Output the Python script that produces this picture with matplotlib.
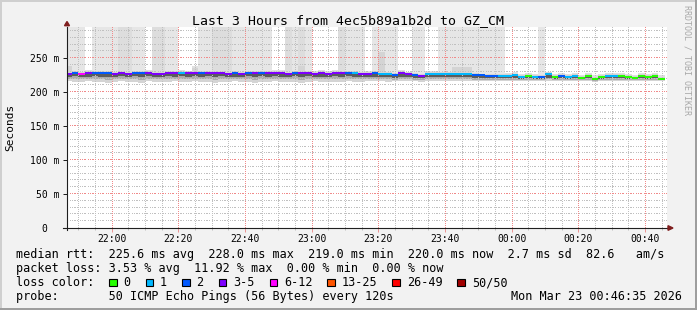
import numpy as np
import pandas as pd
import matplotlib
matplotlib.use("Agg")
import matplotlib.pyplot as plt
import matplotlib.dates as mdates
from matplotlib.patches import Rectangle, Polygon
from matplotlib.transforms import ScaledTranslation

title = "Last 3 Hours from 4ec5b89a1b2d to GZ_CM"
first_bin = "2026-03-22 21:46"
view_start = "2026-03-22 21:46:35"
view_end = "2026-03-23 00:46:35"
stamp = "Mon Mar 23 00:46:35 2026"

# one value per 2 minute step
median_ms = [226.5, 228.0, 226.5, 228.0, 228.0, 228.0, 228.0, 226.5, 228.0, 227.0,
             228.0, 228.0, 228.0, 227.0, 227.5, 228.0, 228.0, 228.0, 228.0, 228.0,
             228.0, 228.0, 228.0, 228.0, 227.0, 228.0, 226.5, 228.0, 228.0, 228.0,
             228.0, 228.0, 228.0, 226.5, 228.0, 228.0, 228.0, 226.5, 228.0, 226.5,
             228.0, 228.0, 228.0, 228.0, 227.0, 227.0, 228.0, 226.5, 227.0, 226.0,
             228.0, 226.5, 225.5, 224.5, 226.5, 227.5, 226.5, 226.5, 226.5, 226.5,
             226.5, 226.0, 225.0, 224.5, 224.5, 224.0, 224.0, 225.0, 222.5, 224.0,
             222.0, 223.0, 226.5, 222.0, 224.0, 222.0, 224.0, 221.5, 224.0, 219.0,
             222.0, 224.0, 224.0, 224.0, 222.0, 221.5, 224.0, 222.0, 224.0, 220.0]

loss_pct = [6, 4, 11.92, 6, 4, 4, 4, 6, 6, 6,
            4, 4, 6, 6, 6, 6, 6, 2, 6, 6,
            4, 6, 6, 6, 6, 4, 6, 4, 6, 4,
            6, 6, 6, 6, 4, 6, 6, 6, 6, 6,
            6, 6, 4, 2, 6, 6, 4, 2, 2, 4,
            6, 6, 4, 6, 2, 2, 2, 2, 2, 2,
            2, 4, 4, 4, 4, 2, 2, 2, 2, 0,
            2, 4, 2, 0, 4, 2, 2, 0, 0, 0,
            0, 2, 2, 0, 0, 0, 0, 0, 0, 0]

rtt_min = [216, 215, 215, 216, 215, 215, 214, 215, 216, 215,
           215, 214, 216, 215, 215, 215, 216, 215, 215, 216,
           215, 215, 214, 215, 215, 216, 215, 215, 214, 215,
           215, 216, 215, 215, 215, 214, 215, 216, 215, 215,
           215, 215, 216, 215, 215, 216, 216, 216, 215, 216,
           216, 216, 216, 215, 216, 216, 216, 216, 216, 216,
           216, 216, 216, 216, 216, 216, 216, 216, 216, 217,
           216, 216, 217, 216, 217, 216, 217, 216, 216, 215.5,
           216, 217, 217, 217, 216, 216, 217, 216, 217, 216]

rtt_p10 = [219, 219.5, 219, 219, 219.5, 219, 218.5, 219, 219.5, 219,
           219, 218.5, 219.5, 219, 219, 219, 219.5, 219, 219, 219.5,
           219, 219, 218.5, 219, 219, 219.5, 219, 219, 218.5, 219,
           219, 219.5, 219, 219, 219, 218.5, 219, 219.5, 219, 219,
           219, 219, 219.5, 219, 219, 219.5, 219, 219, 219, 218.5,
           219, 219, 218.5, 218.5, 219, 219, 219, 219, 219, 219,
           219, 218.5, 218.5, 218, 218, 218, 218, 218.5, 218.5, 218.5,
           218, 218.5, 219, 218, 218.5, 218, 218.5, 218, 218.5, 216.5,
           218, 218.5, 218.5, 218.5, 218, 218, 218.5, 218, 218.5, 217.5]

rtt_p25 = [223, 223.5, 222.5, 223, 223.5, 223, 223, 222.5, 223.5, 223,
           223.5, 223, 223.5, 222.5, 223, 223.5, 223, 223.5, 223, 223.5,
           223, 223.5, 223, 223.5, 222.5, 223, 222.5, 223.5, 223, 223.5,
           223, 223.5, 223, 222.5, 223.5, 223, 223.5, 222.5, 223, 222.5,
           223.5, 223, 223.5, 223, 222.5, 222.5, 222.5, 222, 222, 221.5,
           222.5, 222, 221.5, 221, 222, 222.5, 222, 222, 222, 222,
           222, 221.5, 221, 220.5, 220.5, 220.5, 220.5, 221, 220, 220.5,
           219.5, 220, 221, 219.5, 220.5, 219.5, 220.5, 219.5, 220.5, 217.5,
           219.5, 220.5, 220.5, 220.5, 219.5, 219.5, 220.5, 219.5, 220.5, 218.5]

rtt_hi = [238, 230.5, 229, 230.5, 230.5, 230.5, 230.5, 229, 231, 229.5,
          230.5, 230.5, 230.5, 229.5, 230, 230.5, 230.5, 230.5, 230.5, 236,
          230.5, 230.5, 230.5, 230.5, 229.5, 230.5, 229, 230.5, 230.5, 230.5,
          230.5, 230.5, 230.5, 229, 230.5, 239, 230.5, 229, 230.5, 229,
          230.5, 230.5, 230.5, 230.5, 229.5, 229.5, 230.5, 259, 229.5, 228.5,
          230.5, 229, 228, 227, 229, 230, 229, 229, 237, 237,
          237, 228.5, 227.5, 227, 227, 226.5, 226.5, 227.5, 225.5, 226.5,
          225, 225.5, 229, 225, 226.5, 225, 226.5, 224.5, 226.5, 222.5,
          225, 226.5, 226.5, 226.5, 225, 224.5, 226.5, 225, 226.5, 223]

rtt_max = [420, 420, 420, 232, 420, 420, 420, 420, 420, 420,
           420, 420, 232, 420, 420, 420, 420, 232, 231, 238,
           420, 420, 420, 420, 420, 420, 420, 420, 420, 420,
           420, 232, 232, 420, 420, 420, 420, 231, 232, 231,
           232, 420, 420, 420, 420, 231, 420, 420, 420, 420,
           232, 230, 420, 420, 231, 231, 420, 420, 420, 420,
           420, 420, 420, 420, 420, 420, 228, 229, 227, 228,
           227, 420, 230, 227, 228, 227, 228, 226, 228, 225,
           227, 228, 228, 228, 227, 226, 228, 227, 228, 225]

# pings above the top of the graph
over_top = [2, 2, 2, 0, 2, 2, 2, 2, 3, 3,
            2, 2, 0, 3, 3, 2, 2, 0, 0, 0,
            2, 2, 3, 3, 3, 2, 2, 2, 2, 2,
            2, 0, 0, 3, 2, 3, 2, 0, 0, 0,
            0, 3, 2, 2, 2, 0, 2, 2, 2, 2,
            0, 0, 2, 2, 0, 0, 2, 2, 2, 2,
            2, 2, 2, 2, 2, 2, 0, 0, 0, 0,
            0, 2, 0, 0, 0, 0, 0, 0, 0, 0,
            0, 0, 0, 0, 0, 0, 0, 0, 0, 0]

loss_labels = ["0", "1", "2", "3-5", "6-12", "13-25", "26-49", "50/50"]
loss_colors = ["#26ff00", "#00b8ff", "#0059ff", "#7e00ff",
               "#ff00ff", "#ff5500", "#ff0000", "#a10000"]
loss_upper = [0, 1, 2, 5, 12, 25, 49, 50]

ytick_vals = [0, 50, 100, 150, 200, 250]
ytick_labels = ["0", "50 m", "100 m", "150 m", "200 m", "250 m"]

legend_lines = [
    "median rtt:  225.6 ms avg  228.0 ms max  219.0 ms min  220.0 ms now  2.7 ms sd  82.6   am/s",
    "packet loss: 3.53 % avg  11.92 % max  0.00 % min  0.00 % now",
    "loss color:",
    "probe:       50 ICMP Echo Pings (56 Bytes) every 120s",
]

W, H = 697, 310
MONO = "DejaVu Sans Mono"
plt.rcParams["font.family"] = MONO

fig = plt.figure(figsize=(W / 100, H / 100), dpi=100)
fig.patch.set_facecolor("#f2f2f2")


def fx(px):
    return px / W


def fy(py):
    return 1 - py / H


# 3d frame of the image
for xy, wd, ht, c in [((0, 0), 1, 2 / H, "#9e9e9e"),
                      ((1 - 2 / W, 0), 2 / W, 1, "#9e9e9e"),
                      ((0, 1 - 2 / H), 1 - 2 / W, 2 / H, "#cfcfcf"),
                      ((0, 2 / H), 2 / W, 1 - 4 / H, "#cfcfcf")]:
    fig.add_artist(Rectangle(xy, wd, ht, transform=fig.transFigure, facecolor=c, lw=0))

ax = fig.add_axes([fx(67), fy(228), 600 / W, 201 / H])
ax.set_facecolor("white")
ymax = 296
x0 = mdates.date2num(pd.Timestamp(view_start))
x1 = mdates.date2num(pd.Timestamp(view_end))
ax.set_ylim(0, ymax)
ax.set_xlim(x0, x1)

t = mdates.date2num(pd.date_range(first_bin, periods=len(median_ms), freq="2min"))
w = 2 / 1440
med = np.array(median_ms)
lo = np.array(rtt_min)

shade = {0: "#e0e0e0", 2: "#e6e6e6", 3: "#dddddd"}
kw = dict(width=w, align="edge", linewidth=0, antialiased=False, zorder=1)
ax.bar(t, np.array(rtt_max) - lo, bottom=lo, color=[shade[n] for n in over_top], **kw)
ax.bar(t, np.array(rtt_hi) - lo, bottom=lo, color="#d4d4d4", **kw)
ax.bar(t, med + 1 - np.array(rtt_p10), bottom=rtt_p10, color="#ababab", **kw)
ax.bar(t, med - np.array(rtt_p25), bottom=rtt_p25, color="#5c5c5c", **kw)

# median, coloured by loss
pings = np.round(np.array(loss_pct) * 50 / 100).astype(int)
med_colors = [loss_colors[next(i for i, u in enumerate(loss_upper) if p <= u)] for p in pings]
dy = ymax / 201
ax.bar(t, 2 * dy, bottom=med - dy, color=med_colors, width=w, align="edge",
       linewidth=0, antialiased=False, zorder=3)

# ticks
ax.xaxis.set_major_locator(mdates.MinuteLocator(byminute=[0, 20, 40]))
ax.xaxis.set_minor_locator(mdates.MinuteLocator(byminute=range(0, 60, 5)))
ax.xaxis.set_major_formatter(mdates.DateFormatter("%H:%M"))
ax.set_yticks(ytick_vals, ytick_labels)
ax.tick_params(axis="x", which="major", length=2.9, width=0.72, color="#eb9595",
               pad=1.4, labelsize=7, labelcolor="black")
ax.tick_params(axis="x", which="minor", length=1.5, width=0.72, color="#c0c0c0")
ax.tick_params(axis="y", which="major", length=2.9, width=0.72, color="#1f1f1f",
               pad=2.6, labelsize=7, labelcolor="black")
for s in ax.spines.values():
    s.set_visible(False)

zero = ax.yaxis.get_major_ticks()[0].label1
zero.set_transform(zero.get_transform() + ScaledTranslation(-2 * 0.602 * 7 / 72, 0, fig.dpi_scale_trans))

# dotted grid, one pixel on / one off
dx = (x1 - x0) / 600
xdots = x0 + dx * np.arange(0.5, 600, 2)
ydots = dy * np.arange(0.5, 201, 2)
vmaj = [v for v in ax.xaxis.get_majorticklocs()]
vmin = [v for v in ax.xaxis.get_minorticklocs() if min(abs(v - m) for m in vmaj) > 1e-6]
hmaj = ytick_vals[1:]
hmin = [v for v in range(10, ymax, 10) if v % 50]


def dots(hs, vs, color):
    xs = np.concatenate([xdots for _ in hs] + [np.full(ydots.size, v) for v in vs])
    ys = np.concatenate([np.full(xdots.size, h) for h in hs] + [ydots for _ in vs])
    ax.plot(xs, ys, ",", color=color, zorder=2)


dots(hmin, vmin, "#c0c0c0")
dots(hmaj, vmaj, "#f08a8a")

# axis lines with arrows
ax.plot([-4 / 600, 1 + 1 / 600], [0, 0], transform=ax.transAxes, color="#1f1f1f",
        lw=0.8, clip_on=False, zorder=5)
ax.plot([0, 0], [-2 / 201, 1], transform=ax.transAxes, color="#1f1f1f",
        lw=0.8, clip_on=False, zorder=5)
ax.add_patch(Polygon([(-2.5 / 600, 1 + 1.3 / 201), (2.5 / 600, 1 + 1.3 / 201), (0, 1 + 5.5 / 201)],
                     closed=True, transform=ax.transAxes, color="#801f1f", clip_on=False, zorder=6))
ax.add_patch(Polygon([(1 + 1 / 600, -2.3 / 201), (1 + 1 / 600, 2.3 / 201), (1 + 6 / 600, 0)],
                     closed=True, transform=ax.transAxes, color="#801f1f", clip_on=False, zorder=6))

# texts
fig.text(fx(348), fy(24), title, ha="center", va="baseline", size=9.55, color="black")
fig.text(fx(10), fy(127.5), "Seconds", rotation=90, ha="center", va="center", size=8, color="black")
fig.text(fx(687.5), fy(60), "RRDTOOL / TOBI OETIKER", rotation=270, ha="center", va="center",
         size=6, color="#a8a8a8")

cw = 7.1
baselines = [258.3, 272.3, 286.3, 300.3]
for line, yb in zip(legend_lines, baselines):
    fig.text(fx(16), fy(yb), line, ha="left", va="baseline", size=8.5, color="black")
fig.text(fx(682), fy(baselines[3]), stamp, ha="right", va="baseline", size=8.5, color="black")

sq = 109
for lab, col in zip(loss_labels, loss_colors):
    fig.add_artist(Rectangle((fx(sq), fy(286)), 7.5 / W, 7.5 / H, transform=fig.transFigure,
                             facecolor=col, edgecolor="black", lw=0.8))
    fig.text(fx(sq + 14.3), fy(baselines[2]), lab, ha="left", va="baseline", size=8.5, color="black")
    sq = sq + 14.3 + len(lab) * cw + 15.2

fig.savefig("out.png", dpi=100, facecolor=fig.get_facecolor())
